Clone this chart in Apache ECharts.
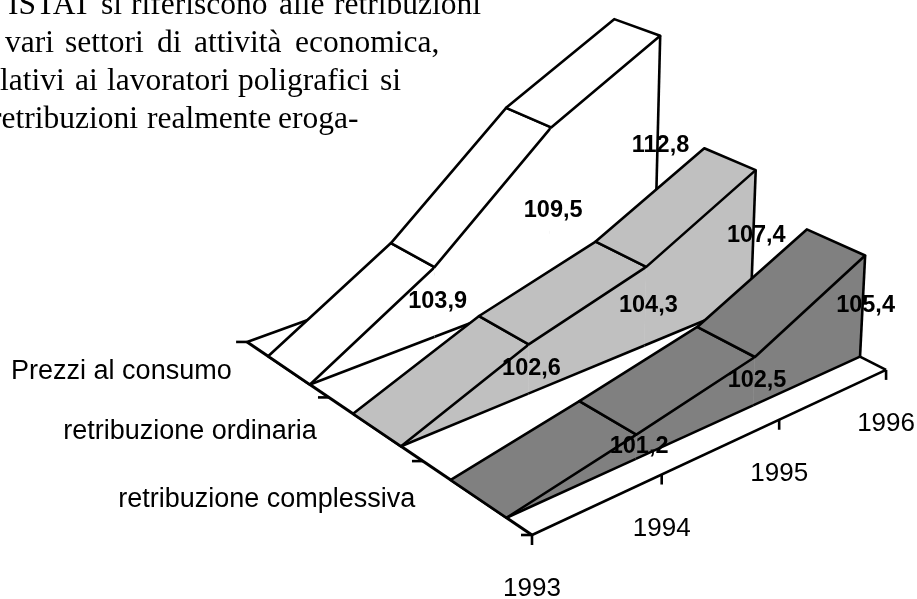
<!DOCTYPE html>
<html><head><meta charset="utf-8">
<style>html,body{margin:0;padding:0;background:#fff}#c{width:917px;height:599px}</style>
<script src="https://cdn.jsdelivr.net/npm/echarts@6/dist/echarts.min.js"></script>
</head><body><div id="c"></div>
<script>
const years = ['1993','1994','1995','1996'];
const seriesNames = ['retribuzione complessiva','retribuzione ordinaria','Prezzi al consumo'];
const complessiva = [100, 101.2, 102.5, 105.4];
const ordinaria = [100, 102.6, 104.3, 107.4];
const prezzi = [100, 103.9, 109.5, 112.8];
const textLines = ['ISTAT si riferiscono alle retribuzioni','vari settori di attività economica,','lativi ai lavoratori poligrafici si','retribuzioni realmente eroga-'];
const bandColors = ['#808080','#c0c0c0','#ffffff'];
const base = 100;

const wordLefts=[[8,101,131,279,334],[5,65,157,194,295],[0,75,107,238,380],[-9,147,278]];
const LW=2.6;

const chart = echarts.init(document.getElementById('c'), null, {renderer:'canvas'});

// perspective camera: year u (0..3), series depth d (0..3), height h
function project(u,d,h){
  const s=-0.0027, vx=455, vy=8400;
  const X=532+164.1*u-75.2*d+2.4*u*d+h*s*vx;
  const Y=535-35.8*u-37*d-1.3*u*d+h*s*vy;
  const W=1+0.052*u+0.08*d+h*s;
  return [X/W,Y/W];
}
const D0=0.22, D1=0.73;
const all=[complessiva,ordinaria,prezzi];

function floorRender(params,api){
  const c=p=>api.coord(p);
  const ch=[];
  const seg=(a,b,w)=>ch.push({type:'line',shape:{x1:a[0],y1:a[1],x2:b[0],y2:b[1]},style:{stroke:'#000',lineWidth:w||LW}});
  const P=(u,d)=>c(project(u,d,0));
  seg(P(0,3),P(3,3)); seg(P(3,3),P(3,0));
  seg(P(0,0),P(0,3),3); seg(P(0,0),P(3,0));
  years.forEach((y,i)=>{const p=P(i,0); seg(p,[p[0],p[1]+10]);
    ch.push({type:'text',x:p[0],y:p[1]+54,style:{text:y,font:'26px "Liberation Sans"',fill:'#000',align:'center',verticalAlign:'middle'}});});
  for(let d=0;d<4;d++){const p=P(0,d); seg(p,[p[0]-11,p[1]]);}
  seriesNames.forEach((n,i)=>{const p=P(0,i+0.5);
    ch.push({type:'text',x:p[0]-60+2.5*i,y:p[1]+3,style:{text:n,font:'27px "Liberation Sans"',fill:'#000',align:'right',verticalAlign:'middle'}});});
  return {type:'group',children:ch};
}

function bandRender(k){
  return function(params,api){
    const c=p=>api.coord(p);
    const vals=all[k];
    const ch=[];
    const poly=(pts,style)=>ch.push({type:'polygon',shape:{points:pts},style});
    const i=params.dataIndex;
    if(i>=vals.length-1) return {type:'group',children:[]};
    const h0=vals[i]-base,h1=vals[i+1]-base;
    const fb0=c(project(i,k+D0,0)),fb1=c(project(i+1,k+D0,0));
    const ft0=c(project(i,k+D0,h0)),ft1=c(project(i+1,k+D0,h1));
    const bt0=c(project(i,k+D1,h0)),bt1=c(project(i+1,k+D1,h1));
    poly([fb0,fb1,ft1,ft0],{fill:bandColors[k],stroke:bandColors[k],lineWidth:0.5});
    poly([ft0,ft1,bt1,bt0],{fill:bandColors[k],stroke:'#000',lineWidth:LW,lineJoin:'round'});
    ch.push({type:'line',shape:{x1:fb0[0],y1:fb0[1],x2:fb1[0],y2:fb1[1]},style:{stroke:'#000',lineWidth:LW}});
    if(i===vals.length-2) ch.push({type:'line',shape:{x1:fb1[0],y1:fb1[1],x2:ft1[0],y2:ft1[1]},style:{stroke:'#000',lineWidth:LW}});
    return {type:'group',children:ch};
  };
}

function labelRender(params,api){
  const k=api.value(0),i=api.value(1),v=api.value(2);
  const p=api.coord(project(i,k+D0,(v-base)/2));
  return {type:'text',x:p[0]+3,y:p[1]-0.5,style:{text:v.toFixed(1).replace('.',','),font:'bold 23.5px "Liberation Sans"',fill:'#000',align:'center',verticalAlign:'middle'}};
}

const labelData=[];
all.forEach((vals,k)=>vals.forEach((v,i)=>{if(i>0)labelData.push([k,i,v]);}));

const series=[{type:'custom',renderItem:floorRender,data:[[0,0]],coordinateSystem:'cartesian2d',silent:true,clip:false,z:1}];
[2,1,0].forEach((k,o)=>{
  series.push({type:'custom',name:seriesNames[k],renderItem:bandRender(k),data:all[k].map((v,i)=>[i,v]),encode:{x:0,y:1},silent:true,clip:false,z:2+o});
});
series.push({type:'custom',renderItem:labelRender,data:labelData,encode:{x:1,y:2},silent:true,clip:false,z:10});

const graphic=[];
textLines.forEach((t,l)=>t.split(' ').forEach((w,j)=>graphic.push({type:'text',x:wordLefts[l][j],y:[-10,28,66,104][l],z:20,
  style:{text:w,font:'31.5px "Liberation Serif"',fill:'#000'}})));

chart.setOption({
  animation:false,
  backgroundColor:'#fff',
  grid:{left:0,right:0,top:0,bottom:0},
  xAxis:{type:'value',min:0,max:917,show:false},
  yAxis:{type:'value',min:0,max:599,inverse:true,show:false},
  series,
  graphic
});
</script></body></html>
